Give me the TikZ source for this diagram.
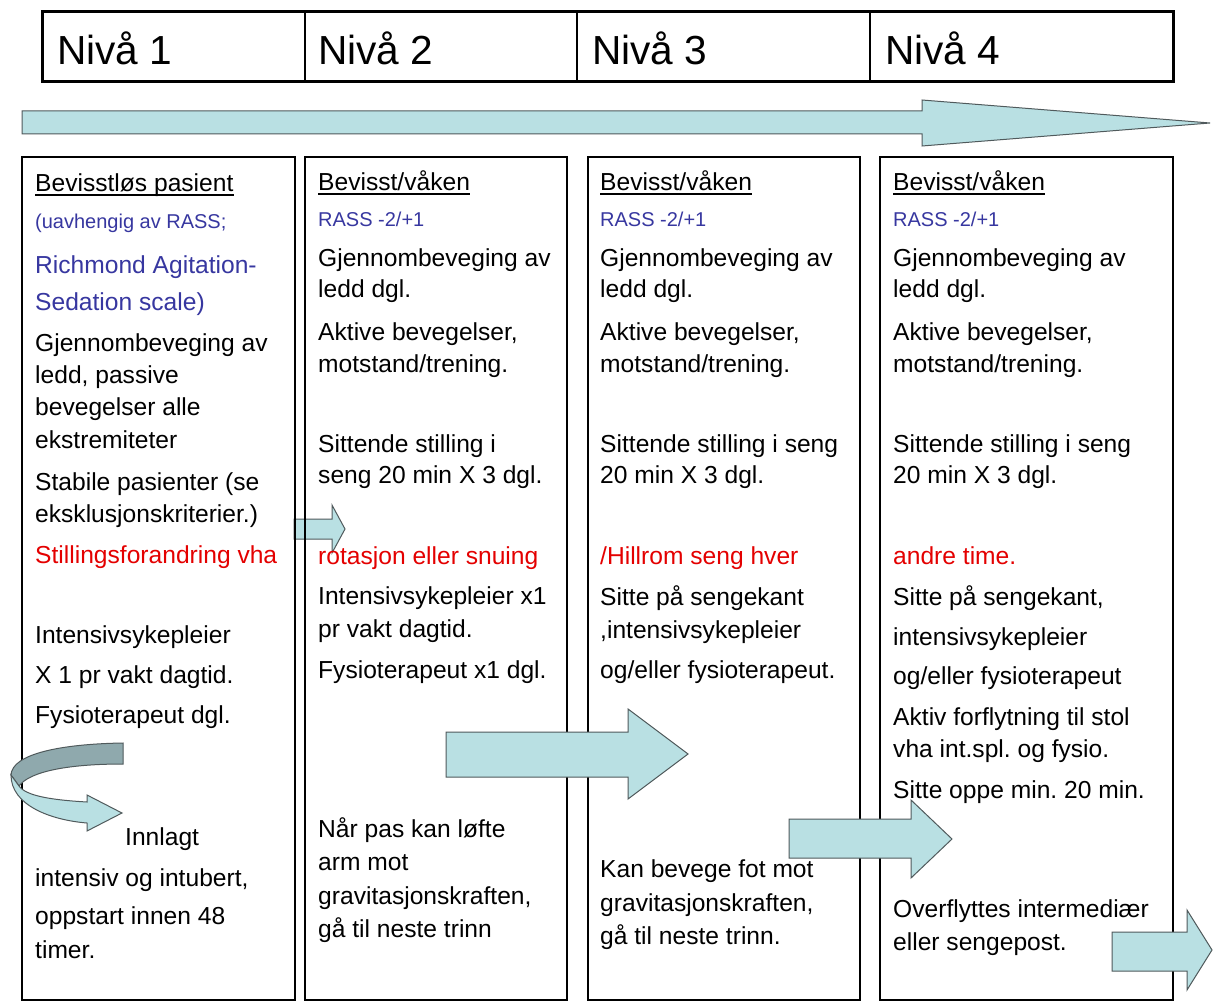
\documentclass[tikz,border=0pt]{standalone}
\usepackage{fontspec}
\setmainfont{Liberation Sans}
\frenchspacing
\definecolor{rassblue}{RGB}{55,55,160}
\definecolor{stillred}{RGB}{228,0,0}
\definecolor{arrowfill}{RGB}{185,224,227}
\definecolor{arrowdark}{RGB}{143,169,173}
\definecolor{arrowedge}{RGB}{80,90,92}
\tikzset{
  body/.style={anchor=base west, inner sep=0pt, text=black, font=\fontsize{24.6}{29}\selectfont},
  bluesmall/.style={body, text=rassblue, font=\fontsize{20}{24}\selectfont},
  bluebig/.style={body, text=rassblue},
  redtxt/.style={body, text=stillred},
  headtxt/.style={anchor=base west, inner sep=0pt, font=\fontsize{40.6}{46}\selectfont},
  colbox/.style={draw=black, line width=1.6pt},
  blockarrow/.style={fill=arrowfill, draw=arrowedge, line width=1pt, line join=miter},
  uline/.style={line width=1.3pt},
}
\begin{document}
\begin{tikzpicture}[x=1pt,y=-1pt]
\useasboundingbox (0,0) rectangle (1213,1003);
\fill[white] (0,0) rectangle (1213,1003);

% header
\draw[line width=1.5pt] (305,12) -- (305,82) (577,12) -- (577,82) (870,12) -- (870,82);
\draw[line width=3pt] (42,12) rectangle (1173,82);
\node[headtxt] (h1) at (57,65) {Nivå 1};
\node[headtxt] (h2) at (318,65) {Nivå 2};
\node[headtxt] (h3) at (592,65) {Nivå 3};
\node[headtxt] (h4) at (885,65) {Nivå 4};

% big arrow
\draw[blockarrow] (22,111) -- (922,111) -- (922,100) -- (1210,123) -- (922,146) -- (922,134) -- (22,134) -- cycle;

% small arrow (behind borders)
\draw[blockarrow] (294,519) -- (332,519) -- (332,505) -- (345,529) -- (332,553) -- (332,539) -- (294,539) -- cycle;

% column boxes
\draw[colbox] (22,157) rectangle (295,1000);
\draw[colbox] (305,157) rectangle (567,1000);
\draw[colbox] (588,157) rectangle (860,1000);
\draw[colbox] (880,157) rectangle (1173,1000);

% block arrows over borders
\draw[blockarrow] (446,732) -- (628,732) -- (628,709) -- (688,754) -- (628,799) -- (628,777) -- (446,777) -- cycle;
\draw[blockarrow] (789,819) -- (911,819) -- (911,800) -- (952,839) -- (911,878) -- (911,858) -- (789,858) -- cycle;
\draw[blockarrow] (1112,932) -- (1187,932) -- (1187,910) -- (1212,950) -- (1187,990) -- (1187,971) -- (1112,971) -- cycle;

% curved arrow
\draw[fill=arrowdark, draw=arrowedge, line width=1pt]
  (123,743) .. controls (60,744) and (12,754) .. (11,775) -- (19,786)
  .. controls (30,771) and (70,764) .. (123,764) -- cycle;
\draw[blockarrow]
  (11,775) .. controls (11,805) and (50,820) .. (87,823) -- (87,831) -- (122,813)
  -- (87,795) -- (87,802) .. controls (52,800) and (26,796) .. (19,786) -- cycle;

% column 1
\node[body] (c1t) at (35,192) {Bevisstløs pasient};
\draw[uline] ([yshift=-3pt]c1t.base west) -- ([yshift=-3pt]c1t.base east);
\node[bluesmall] (c1a) at (35,229) {(uavhengig av RASS;};
\node[bluebig] (c1b) at (35,273) {Richmond Agitation-};
\node[bluebig] (c1c) at (35,310) {Sedation scale)};
\node[body] (c1d) at (35,351) {Gjennombeveging av};
\node[body] (c1e) at (35,383) {ledd, passive};
\node[body] (c1f) at (35,415) {bevegelser alle};
\node[body] (c1g) at (35,448) {ekstremiteter};
\node[body] (c1h) at (35,490) {Stabile pasienter (se};
\node[body] (c1i) at (35,522) {eksklusjonskriterier.)};
\node[redtxt] (c1j) at (35,563) {Stillingsforandring vha};
\node[body] (c1k) at (35,643) {Intensivsykepleier};
\node[body] (c1l) at (35,683) {X 1 pr vakt dagtid.};
\node[body] (c1m) at (35,723) {Fysioterapeut dgl.};
\node[body] (c1n) at (125,845) {Innlagt};
\node[body] (c1o) at (35,886) {intensiv og intubert,};
\node[body] (c1p) at (35,924) {oppstart innen 48};
\node[body] (c1q) at (35,958) {timer.};

% column 2
\node[body] (c2t) at (318,191) {Bevisst/våken};
\draw[uline] ([yshift=-3pt]c2t.base west) -- ([yshift=-3pt]c2t.base east);
\node[bluesmall] (c2a) at (318,226) {RASS -2/+1};
\node[body] (c2b) at (318,266) {Gjennombeveging av};
\node[body] (c2c) at (318,298) {ledd dgl.};
\node[body] (c2d) at (318,340) {Aktive bevegelser,};
\node[body] (c2e) at (318,372) {motstand/trening.};
\node[body] (c2f) at (318,452) {Sittende stilling i};
\node[body] (c2g) at (318,483) {seng 20 min X 3 dgl.};
\node[redtxt] (c2h) at (318,564) {rotasjon eller snuing};
\node[body] (c2i) at (318,604) {Intensivsykepleier x1};
\node[body] (c2j) at (318,637) {pr vakt dagtid.};
\node[body] (c2k) at (318,678) {Fysioterapeut x1 dgl.};
\node[body] (c2l) at (318,837) {Når pas kan løfte};
\node[body] (c2m) at (318,870) {arm mot};
\node[body] (c2n) at (318,904) {gravitasjonskraften,};
\node[body] (c2o) at (318,937) {gå til neste trinn};

% column 3
\node[body] (c3t) at (600,191) {Bevisst/våken};
\draw[uline] ([yshift=-3pt]c3t.base west) -- ([yshift=-3pt]c3t.base east);
\node[bluesmall] (c3a) at (600,226) {RASS -2/+1};
\node[body] (c3b) at (600,266) {Gjennombeveging av};
\node[body] (c3c) at (600,298) {ledd dgl.};
\node[body] (c3d) at (600,340) {Aktive bevegelser,};
\node[body] (c3e) at (600,372) {motstand/trening.};
\node[body] (c3f) at (600,452) {Sittende stilling i seng};
\node[body] (c3g) at (600,483) {20 min X 3 dgl.};
\node[redtxt] (c3h) at (600,564) {/Hillrom seng hver};
\node[body] (c3i) at (600,605) {Sitte på sengekant};
\node[body] (c3j) at (600,638) {,intensivsykepleier};
\node[body] (c3k) at (600,678) {og/eller fysioterapeut.};
\node[body] (c3l) at (600,877) {Kan bevege fot mot};
\node[body] (c3m) at (600,911) {gravitasjonskraften,};
\node[body] (c3n) at (600,944) {gå til neste trinn.};

% column 4
\node[body] (c4t) at (893,191) {Bevisst/våken};
\draw[uline] ([yshift=-3pt]c4t.base west) -- ([yshift=-3pt]c4t.base east);
\node[bluesmall] (c4a) at (893,226) {RASS -2/+1};
\node[body] (c4b) at (893,266) {Gjennombeveging av};
\node[body] (c4c) at (893,298) {ledd dgl.};
\node[body] (c4d) at (893,340) {Aktive bevegelser,};
\node[body] (c4e) at (893,372) {motstand/trening.};
\node[body] (c4f) at (893,452) {Sittende stilling i seng};
\node[body] (c4g) at (893,483) {20 min X 3 dgl.};
\node[redtxt] (c4h) at (893,564) {andre time.};
\node[body] (c4i) at (893,605) {Sitte på sengekant,};
\node[body] (c4j) at (893,645) {intensivsykepleier};
\node[body] (c4k) at (893,684) {og/eller fysioterapeut};
\node[body] (c4l) at (893,725) {Aktiv forflytning til stol};
\node[body] (c4m) at (893,757) {vha int.spl. og fysio.};
\node[body] (c4n) at (893,798) {Sitte oppe min. 20 min.};
\node[body] (c4o) at (893,917) {Overflyttes intermediær};
\node[body] (c4p) at (893,950) {eller sengepost.};
\end{tikzpicture}
\end{document}
